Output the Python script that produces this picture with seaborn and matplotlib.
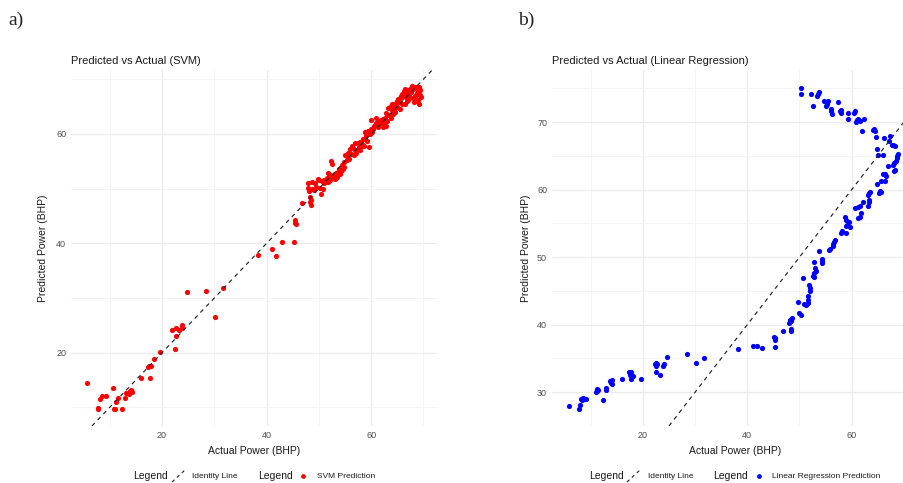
import matplotlib
matplotlib.use("Agg")
import matplotlib.pyplot as plt
import seaborn as sns
import pandas as pd
from matplotlib.lines import Line2D

## donnees

# SVM : (puissance reelle, puissance predite)
svm_actual = [
    5.6, 7.7, 7.8, 8.2, 8.6, 9.3, 10.7, 10.8, 11.1, 12.3, 11.3, 11.5, 12.9, 13.1, 13.7, 14.1, 14.2, 13.8,
    16.0, 17.8, 17.3, 17.6, 17.9, 18.4, 19.6, 22.5, 22.7, 22.0, 22.7, 23.2, 23.9, 23.9, 24.7, 28.4, 31.7,
    30.1, 38.4, 42.9, 45.3, 41.0, 41.8, 45.5, 45.4, 45.6, 46.8, 48.5, 48.5,
    47.9, 48.2, 48.6, 49.0, 49.5, 50.2, 50.8, 48.0, 48.6, 49.3, 50.0, 50.6, 51.0, 51.4, 48.3, 48.4,
    51.6, 52.0, 52.4, 52.8, 53.2, 53.6, 54.0, 54.3, 53.8, 54.6, 54.4, 52.5, 52.3, 53.0, 52.2, 53.5, 51.8,
    55.0, 55.3, 55.6, 56.0, 56.6, 56.3, 56.9, 57.2, 57.6, 57.9, 58.2, 58.5, 58.8, 59.2, 59.5, 58.6, 57.0,
    58.9, 59.4, 60.2, 60.0, 60.6, 61.0, 61.3, 61.6, 62.0, 62.3, 62.6, 63.0, 63.3, 61.0, 60.0, 62.8,
    63.3, 63.6, 64.0, 64.3, 64.6, 65.0, 65.3, 65.6, 66.0, 66.4, 66.2, 65.8, 66.6, 67.1, 67.6, 68.0, 68.4,
    68.7, 69.0, 69.3, 69.5, 69.0, 68.5, 68.0, 67.4, 66.8, 66.0, 65.2, 64.5, 67.0, 68.8, 67.8, 66.5, 69.4,
    68.2, 69.2, 64.2, 63.8, 67.3, 68.9, 66.9, 65.9, 62.2, 60.8, 57.4, 55.8, 49.8, 50.4,
    50.9, 51.7, 52.6, 53.3, 54.8, 55.4, 56.2, 57.8, 58.4, 59.8, 60.4, 61.8, 62.5, 63.9, 64.8, 65.5,
    66.3, 67.0, 67.7, 68.3, 68.6, 69.1, 66.7, 65.0, 64.0, 62.9, 61.4, 59.0, 56.7, 54.9,
]
svm_pred = [
    14.4, 9.8, 9.9, 11.5, 12.0, 12.0, 13.6, 9.8, 9.8, 9.7, 11.0, 11.7, 11.7, 12.7, 12.4, 13.2, 12.9, 13.0,
    15.4, 15.4, 17.4, 17.6, 17.5, 18.8, 20.1, 20.6, 23.1, 24.2, 24.6, 24.2, 25.1, 24.5, 31.1, 31.2, 31.9,
    26.6, 37.9, 40.3, 40.2, 39.0, 37.7, 43.8, 44.2, 43.5, 47.3, 48.0, 47.0,
    50.2, 49.6, 50.0, 49.8, 50.3, 50.2, 50.0, 51.0, 51.3, 51.0, 51.5, 51.4, 51.0, 51.2, 48.4, 47.6,
    52.0, 52.6, 52.0, 52.4, 52.8, 53.0, 52.6, 53.2, 53.6, 53.6, 54.4, 54.6, 55.0, 51.8, 51.6, 52.2, 52.8,
    56.2, 56.0, 56.6, 57.2, 57.4, 57.8, 57.0, 56.6, 57.6, 57.0, 58.2, 59.0, 59.3, 58.8, 57.6, 57.8, 58.4,
    60.3, 60.6, 60.4, 61.0, 61.4, 62.0, 62.3, 61.8, 62.0, 62.8, 63.0, 62.3, 63.4, 63.0, 62.5, 61.5,
    64.8, 65.0, 64.4, 64.6, 65.2, 65.0, 65.8, 66.5, 67.3, 65.5, 67.8, 67.0, 66.8, 68.1, 67.6, 68.3, 68.5,
    67.5, 67.9, 67.2, 66.8, 66.2, 67.2, 66.5, 66.8, 66.0, 65.5, 66.4, 64.0, 66.2, 68.6, 68.8, 68.2, 68.0,
    65.8, 65.5, 63.6, 63.0, 67.0, 67.4, 67.6, 66.7, 61.2, 61.6, 58.3, 55.4, 51.8, 49.1,
    51.6, 51.2, 52.1, 52.0, 53.9, 55.3, 56.4, 58.6, 57.8, 60.0, 60.9, 62.6, 61.8, 63.6, 65.6, 64.6,
    66.9, 66.6, 68.4, 67.0, 66.0, 68.6, 67.5, 66.0, 65.4, 63.8, 61.2, 59.8, 56.1, 54.8,
]

# regression lineaire : (puissance reelle, puissance predite)
lr_actual = [
    5.8, 7.8, 8.0, 8.2, 8.4, 8.6, 8.8, 9.2, 11.3, 11.1, 11.5, 11.2, 12.3, 13.0, 13.0, 13.9, 14.0, 13.8,
    14.1, 16.0, 17.4, 17.8, 17.6, 18.2, 17.8, 19.7, 22.4, 22.6, 22.5, 22.8, 22.5, 23.2, 23.9, 24.0, 24.7,
    28.4, 30.2, 31.7, 38.3, 41.0, 41.8, 42.9, 45.1, 45.3, 45.4, 45.3, 46.8, 48.2, 48.0, 48.4, 48.6, 48.3,
    48.3, 49.9, 50.2, 49.7, 50.9, 51.2, 51.6, 51.7, 51.6, 52.0, 51.9, 52.1, 50.7, 53.0, 53.1, 52.8, 52.6,
    52.8, 52.8, 54.3, 54.4, 54.3, 53.8, 55.6, 55.8, 56.6, 56.4, 56.8, 56.5, 58.0, 58.2, 58.9, 59.0, 59.1,
    59.5, 58.7, 58.9, 59.6, 61.6, 61.7, 61.3, 61.6, 61.2, 60.6, 63.1, 62.1, 63.3, 63.4, 63.2, 63.3, 63.5,
    65.4, 65.6, 65.2, 64.9, 65.6, 66.4, 66.4, 66.0, 66.6, 67.0, 68.1, 68.3, 68.1, 68.4, 68.0, 68.7, 68.9,
    68.6,
    65.0, 66.0, 64.8, 67.7, 68.0, 68.2, 67.3, 66.2, 67.2, 64.7, 64.0, 64.2, 64.4, 61.9, 62.4, 61.0, 61.3,
    61.6, 60.8, 60.4, 60.6, 59.2, 59.3, 57.8, 57.9, 58.0, 57.4, 56.0, 56.2, 56.1, 55.5, 54.7, 55.0, 55.2,
    53.5, 53.8, 53.3, 52.5, 52.2, 50.3, 50.2,
]
lr_pred = [
    28.0, 27.5, 28.1, 29.0, 28.8, 29.1, 29.0, 29.0, 30.2, 30.0, 30.4, 30.5, 28.9, 30.3, 30.6, 31.4, 31.2, 31.6,
    31.8, 31.9, 33.0, 33.0, 32.6, 32.4, 31.9, 31.9, 34.2, 34.3, 33.9, 34.2, 33.0, 32.6, 33.9, 34.2, 35.2,
    35.6, 34.4, 35.1, 36.4, 36.9, 36.8, 36.5, 38.2, 38.0, 37.8, 36.7, 39.1, 40.7, 40.3, 40.5, 41.0, 39.4,
    39.0, 41.7, 41.5, 43.3, 43.1, 42.9, 44.3, 43.6, 43.2, 45.4, 45.8, 45.0, 46.9, 48.4, 48.0, 47.6, 47.2,
    47.0, 49.3, 49.7, 49.4, 49.2, 50.9, 51.0, 51.2, 52.2, 52.0, 52.5, 51.7, 53.6, 53.9, 53.6, 55.5, 54.8,
    55.2, 55.9, 54.6, 54.4, 57.5, 56.6, 57.4, 56.0, 55.8, 57.3, 57.6, 58.2, 58.5, 58.2, 59.2, 59.5, 59.6,
    59.8, 59.6, 59.5, 60.8, 61.2, 61.3, 62.3, 62.3, 62.0, 63.5, 62.7, 62.9, 63.9, 64.2, 63.6, 65.0, 65.3,
    64.7,
    65.1, 65.1, 66.0, 66.6, 66.6, 66.4, 68.0, 67.6, 67.2, 67.8, 68.8, 69.0, 68.6, 68.6, 70.4, 70.3, 70.5,
    70.2, 70.0, 71.3, 71.6, 70.4, 71.4, 71.6, 71.3, 71.8, 73.0, 71.6, 71.2, 72.0, 73.1, 73.1, 72.4, 72.7,
    74.2, 74.4, 73.9, 72.4, 74.1, 74.1, 75.1,
]

titres = ["Predicted vs Actual (SVM)", "Predicted vs Actual (Linear Regression)"]
noms_pred = ["SVM Prediction", "Linear Regression Prediction"]
couleurs = ["#FF0000", "#0000FF"]
lettres = ["a)", "b)"]

## mise en page (pixels de l'image de reference)
W, H = 904, 483
sns.set_theme(style="white")
plt.rcParams["font.family"] = ["Liberation Sans", "DejaVu Sans"]

fig = plt.figure(figsize=(W / 100, H / 100), dpi=100)


def fx(px):
    return px / W


def fy(py):
    return 1 - py / H


def panneau(x0, x1, df, couleur, titre, ylim, yticks, yminor, ylab_x):
    ax = fig.add_axes([fx(x0), fy(426), fx(x1) - fx(x0), fy(70) - fy(426)])
    ax.set_facecolor("white")
    for s in ax.spines.values():
        s.set_visible(False)
    ax.set_xlim(2.6, 72.6)
    ax.set_ylim(*ylim)
    ax.set_xticks([20, 40, 60])
    ax.set_xticks([10, 30, 50, 70], minor=True)
    ax.set_yticks(yticks)
    ax.set_yticks(yminor, minor=True)
    ax.grid(True, which="major", color="#EBEBEB", lw=0.9)
    ax.grid(True, which="minor", color="#F2F2F2", lw=0.6)
    ax.set_axisbelow(True)
    ax.tick_params(which="both", length=0, labelsize=6.5, labelcolor="#4D4D4D", pad=3.5)
    ax.axline((0, 0), slope=1, color="#222222", lw=0.85, ls=(0, (3.5, 3.5)), zorder=3)
    sns.scatterplot(data=df, x="actual", y="pred", color=couleur, s=14, linewidth=0,
                    ax=ax, zorder=2, legend=False)
    ax.set_xlabel("Actual Power (BHP)", fontsize=7.5, color="#1A1A1A")
    ax.set_ylabel("Predicted Power (BHP)", fontsize=7.5, color="#1A1A1A")
    ax.xaxis.set_label_coords(((x0 + x1) / 2 - x0) / (x1 - x0), -0.056)
    ax.yaxis.set_label_coords((ylab_x - x0) / (x1 - x0), 0.5)
    ax.text(0, (426 - 61) / 356, titre, transform=ax.transAxes, fontsize=8,
            color="#1A1A1A", ha="left", va="center")
    return ax


def legende(x_leg1, x_key, x_txt1, x_leg2, x_dot, x_txt2, nom, couleur):
    y = fy(476)
    fig.text(fx(x_leg1), y, "Legend", fontsize=7.5, color="#1A1A1A", va="center")
    fig.add_artist(Line2D([fx(x_key), fx(x_key + 14)], [fy(482), fy(469)],
                          color="#222222", lw=0.8, ls=(0, (3, 3))))
    fig.text(fx(x_txt1), y, "Identity Line", fontsize=6, color="#1A1A1A", va="center")
    fig.text(fx(x_leg2), y, "Legend", fontsize=7.5, color="#1A1A1A", va="center")
    fig.add_artist(Line2D([fx(x_dot)], [y], marker="o", ms=3.4, mew=0,
                          color=couleur, ls="none"))
    fig.text(fx(x_txt2), y, nom, fontsize=6, color="#1A1A1A", va="center")


df_svm = pd.DataFrame({"actual": svm_actual, "pred": svm_pred})
df_lr = pd.DataFrame({"actual": lr_actual, "pred": lr_pred})

panneau(71, 437, df_svm, couleurs[0], titres[0], (6.6, 71.7), [20, 40, 60], [10, 30, 50, 70], 48)
panneau(552, 917.5, df_lr, couleurs[1], titres[1], (25, 77.7), [30, 40, 50, 60, 70],
        [35, 45, 55, 65, 75], 531)

legende(133, 172, 192, 258, 303, 317, noms_pred[0], couleurs[0])
legende(589, 627, 648, 713, 759, 772, noms_pred[1], couleurs[1])

fig.text(fx(8), fy(20), lettres[0], fontsize=14, family=["Liberation Serif"], va="center")
fig.text(fx(518), fy(20), lettres[1], fontsize=14, family=["Liberation Serif"], va="center")

fig.savefig("out.png", dpi=100, facecolor="white")
